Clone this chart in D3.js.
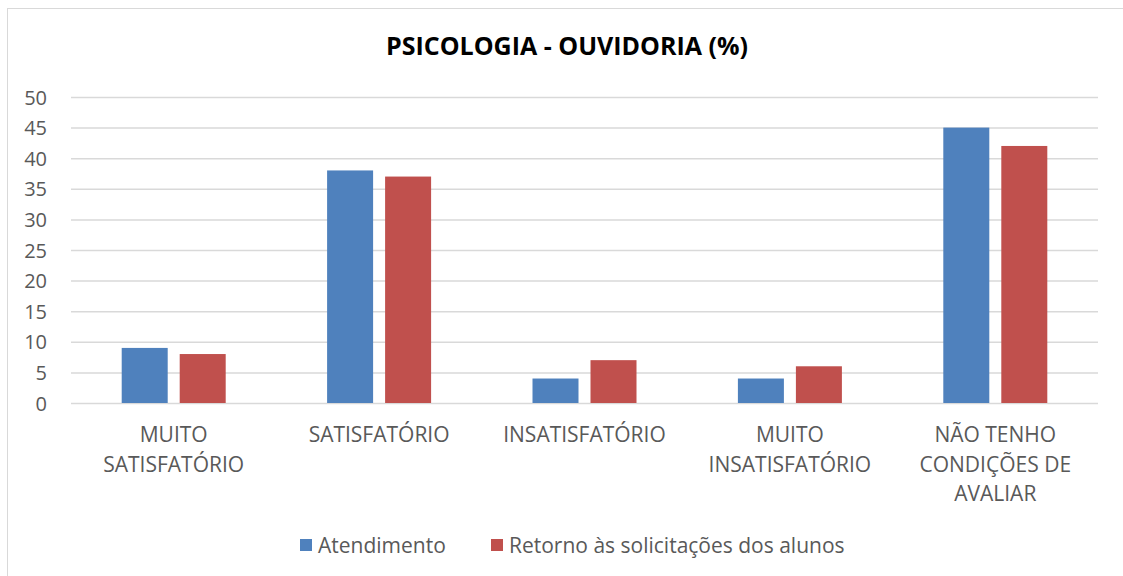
<!DOCTYPE html>
<html>
<head>
<meta charset="utf-8">
<script src="https://cdn.jsdelivr.net/npm/d3@7"></script>
<style>
  body { margin: 0; background: #fff; }
  text { font-family: "Open Sans", "Noto Sans", sans-serif; fill: #595959; }
</style>
</head>
<body>
<svg id="grafico" width="1123" height="576"></svg>
<script>
const categorias = [
    ['MUITO', 'SATISFATÓRIO'],
    ['SATISFATÓRIO'],
    ['INSATISFATÓRIO'],
    ['MUITO', 'INSATISFATÓRIO'],
    ['NÃO TENHO', 'CONDIÇÕES DE', 'AVALIAR']
];
const series = ['Atendimento', 'Retorno às solicitações dos alunos'];
const atendimento = [9, 38, 4, 4, 45];
const retorno = [8, 37, 7, 6, 42];
const ticks_y = [0, 5, 10, 15, 20, 25, 30, 35, 40, 45, 50];
const colores = ['#4f81bd', '#c0504d'];

const margen = { left: 71, right: 1098, top: 97, bottom: 403 };
const ancho_barra = 46;
const espacio_barras = 12;

const svg = d3.select('#grafico');

// borde del grafico (se corta a la derecha y abajo)
svg.append('rect')
    .attr('x', 7.5).attr('y', 8.5)
    .attr('width', 1200).attr('height', 700)
    .attr('fill', 'none')
    .attr('stroke', '#d9d9d9');

svg.append('text')
    .attr('x', 567).attr('y', 55)
    .attr('text-anchor', 'middle')
    .style('font-size', '25px')
    .style('font-weight', 'bold')
    .style('fill', '#000')
    .text('PSICOLOGIA - OUVIDORIA (%)');

const escalaY = d3.scaleLinear()
    .domain([0, 50])
    .range([margen.bottom, margen.top]);

const escalaX = d3.scaleBand()
    .domain(d3.range(categorias.length))
    .range([margen.left, margen.right]);

const grupo = ancho_barra * 2 + espacio_barras;
const escalaSerie = d3.scaleBand()
    .domain([0, 1])
    .range([0, grupo])
    .paddingInner(espacio_barras / (ancho_barra + espacio_barras));

// eje y con lineas de grilla
const ejeY = d3.axisLeft(escalaY)
    .tickValues(ticks_y)
    .tickSize(-(margen.right - margen.left))
    .tickPadding(24);

const contY = svg.append('g')
    .attr('transform', `translate(${margen.left},0)`)
    .call(ejeY);
contY.select('.domain').remove();
contY.selectAll('line').attr('stroke', '#d9d9d9').attr('stroke-width', 1.5);
contY.selectAll('text')
    .style('font-size', '20px')
    .attr('dy', '0.35em');

// barras
const datos = [atendimento, retorno];
datos.forEach((valores, s) => {
    svg.append('g')
        .selectAll('rect')
        .data(valores)
        .join('rect')
        .attr('x', (d, i) => escalaX(i) + (escalaX.bandwidth() - grupo) / 2 + escalaSerie(s))
        .attr('width', escalaSerie.bandwidth())
        .attr('y', d => escalaY(d))
        .attr('height', d => escalaY(0) - escalaY(d))
        .attr('fill', colores[s]);
});

// etiquetas de categorias
const etiquetas = svg.append('g')
    .selectAll('text')
    .data(categorias)
    .join('text')
    .attr('x', (d, i) => escalaX(i) + escalaX.bandwidth() / 2)
    .attr('y', 442)
    .attr('text-anchor', 'middle')
    .style('font-size', '21px');

etiquetas.selectAll('tspan')
    .data(d => d)
    .join('tspan')
    .attr('x', function () { return d3.select(this.parentNode).attr('x'); })
    .attr('dy', (d, i) => i == 0 ? 0 : 29.5)
    .text(d => d);

// leyenda
const leyenda = svg.append('g');
const pos_leyenda = [300, 491];
series.forEach((nombre, s) => {
    leyenda.append('rect')
        .attr('x', pos_leyenda[s]).attr('y', 539)
        .attr('width', 12).attr('height', 12)
        .attr('fill', colores[s]);
    leyenda.append('text')
        .attr('x', pos_leyenda[s] + 18).attr('y', 553)
        .style('font-size', '21px')
        .text(nombre);
});
</script>
</body>
</html>
